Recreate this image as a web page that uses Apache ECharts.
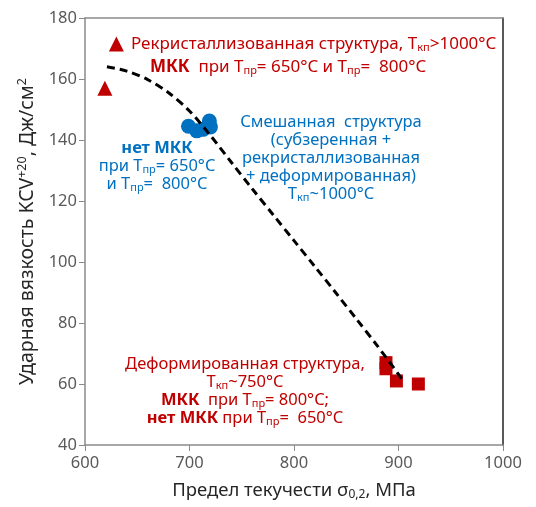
<!DOCTYPE html>
<html><head><meta charset="utf-8">
<script src="https://cdn.jsdelivr.net/npm/echarts@6/dist/echarts.min.js"></script>
<style>html,body{margin:0;padding:0;background:#fff}#c{width:536px;height:507px}</style>
</head><body><div id="c"></div>
<script>
// Data
const triangles = [[619, 157], [630, 171.5]];
const circles = [[699, 144.5], [707, 143], [713, 143.5], [719, 146.2], [720, 144.3]];
const squares = [[888, 67], [888, 65], [898, 61], [919, 60]];
const trendX = [621, 640, 660, 680, 700, 720, 740, 760, 780, 800, 820, 840, 860, 880, 906];
const trendY = [164, 162.6, 159.8, 155.5, 149.5, 141.5, 132.7, 124, 115.5, 107, 98.5, 89.9, 81.2, 72.4, 60.4];
const xMin = 600, xMax = 1000, xStep = 100;
const yMin = 40, yMax = 180, yStep = 20;

const RED = '#C00000', BLUE = '#0070C0', FONT = 'Noto Sans';
const FS = 16.5;
const rich = (color, fs) => ({
  n: {fill: color, fontSize: fs, fontFamily: FONT, lineHeight: 18},
  b: {fill: color, fontSize: fs, fontFamily: FONT, fontWeight: 'bold', lineHeight: 18},
  s: {fill: color, fontSize: 11, fontFamily: FONT, lineHeight: 10, verticalAlign: 'bottom'}
});
function txt(x, y, text, color, align, fs) {
  fs = fs || FS;
  return {type: 'text', x: x, y: y, z: 100,
    style: {text: text, rich: rich(color, fs), fill: color, fontSize: fs, fontFamily: FONT,
      align: align || 'center', verticalAlign: 'middle', lineHeight: 18}};
}

const chart = echarts.init(document.getElementById('c'), null, {renderer: 'canvas'});
const axisLbl = {color: '#595959', fontSize: 16.5, fontFamily: FONT, formatter: v => String(v)};
chart.setOption({
  animation: false,
  grid: {left: 85, right: 33, top: 18, bottom: 62, containLabel: false},
  xAxis: [{
    type: 'value', min: xMin, max: xMax, interval: xStep,
    axisLine: {show: true, lineStyle: {color: '#8a8a8a', width: 1.5}},
    axisTick: {show: true, inside: false, length: 6, lineStyle: {color: '#8a8a8a'}},
    splitLine: {show: false},
    axisLabel: Object.assign({margin: 10}, axisLbl),
    name: '{n|Предел текучести σ}{s|0,2}{n|, МПа}', nameLocation: 'middle', nameGap: 36,
    nameTextStyle: {rich: {
      n: {color: '#262626', fontSize: 18.5, fontFamily: FONT, lineHeight: 20},
      s: {color: '#262626', fontSize: 12, fontFamily: FONT, lineHeight: 10, verticalAlign: 'bottom'}}}
  }, {
    type: 'value', position: 'top', min: xMin, max: xMax,
    axisLine: {show: true, lineStyle: {color: '#8a8a8a', width: 1.5}},
    axisTick: {show: false}, axisLabel: {show: false}, splitLine: {show: false}
  }],
  yAxis: [{
    type: 'value', min: yMin, max: yMax, interval: yStep,
    axisLine: {show: true, lineStyle: {color: '#8a8a8a', width: 1.5}},
    axisTick: {show: true, inside: false, length: 6, lineStyle: {color: '#8a8a8a'}},
    splitLine: {show: false},
    axisLabel: Object.assign({margin: 8}, axisLbl),
    name: '{n|Ударная вязкость KCV}{p|+20}{n|, Дж/см}{p|2}', nameLocation: 'middle', nameGap: 47,
    nameTextStyle: {rich: {
      n: {color: '#262626', fontSize: 19.5, fontFamily: FONT, lineHeight: 22},
      p: {color: '#262626', fontSize: 12.5, fontFamily: FONT, lineHeight: 10, verticalAlign: 'top'}}}
  }, {
    type: 'value', position: 'right', min: yMin, max: yMax,
    axisLine: {show: true, lineStyle: {color: '#222', width: 1.5}},
    axisTick: {show: false}, axisLabel: {show: false}, splitLine: {show: false}
  }],
  series: [
    {type: 'line', data: trendX.map((x, i) => [x, trendY[i]]), smooth: 0.3, symbol: 'none',
      lineStyle: {color: '#000', width: 3, type: [8, 5]}, z: 3},
    {type: 'scatter', data: triangles, symbol: 'triangle', symbolSize: 15,
      itemStyle: {color: RED, opacity: 1}, z: 2},
    {type: 'scatter', data: circles, symbol: 'circle', symbolSize: 15,
      itemStyle: {color: BLUE, opacity: 1}, z: 2},
    {type: 'scatter', data: squares, symbol: 'rect', symbolSize: 13,
      itemStyle: {color: RED, opacity: 1}, z: 2}
  ],
  graphic: [
    txt(131, 44, '{n|Рекристаллизованная структура, Т}{s|кп}{n|>1000°C}', RED, 'left', 17),
    txt(150, 67, '{b|МКК}{n|  при Т}{s|пр}{n|= 650°C и Т}{s|пр}{n|=  800°C}', RED, 'left', 17),
    txt(157, 166, '{b|нет МКК}\n{n|при Т}{s|пр}{n|= 650°C}\n{n|и Т}{s|пр}{n|=  800°C}', BLUE, 'center'),
    txt(331, 158, '{n|Смешанная  структура}\n{n|(субзеренная +}\n{n|рекристаллизованная}\n{n|+ деформированная)}\n{n|Т}{s|кп}{n|~1000°C}', BLUE, 'center'),
    txt(245, 391, '{n|Деформированная структура,}\n{n|Т}{s|кп}{n|~750°C}\n{b|МКК}{n|  при Т}{s|пр}{n|= 800°C;}\n{b|нет МКК}{n| при Т}{s|пр}{n|=  650°C}', RED, 'center')
  ]
});
</script></body></html>
